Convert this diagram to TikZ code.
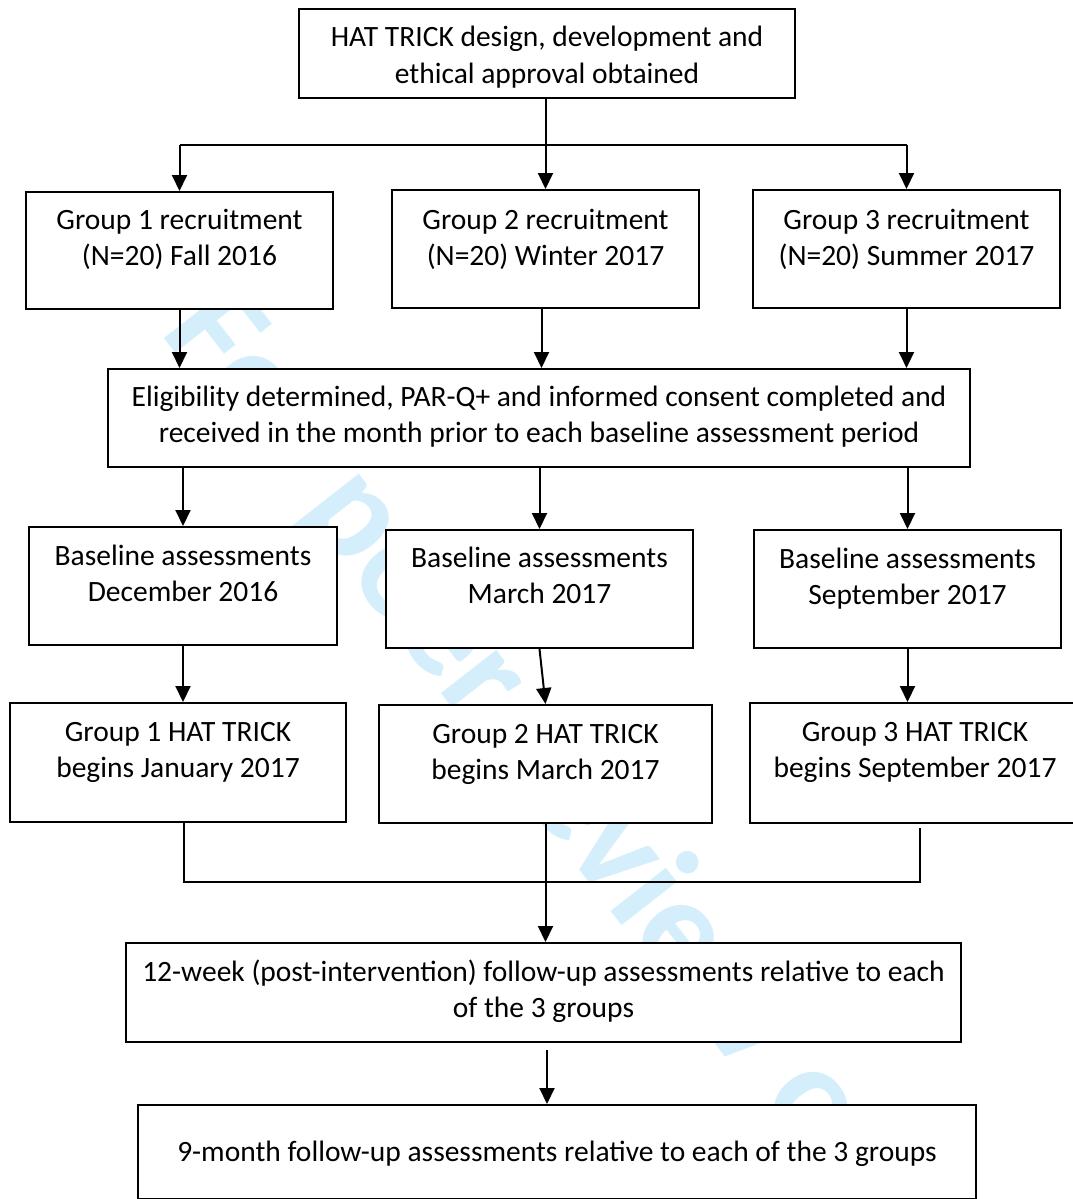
\documentclass[tikz,border=0pt]{standalone}
\usepackage{fontspec}
\setmainfont{Carlito}
\usetikzlibrary{arrows.meta}
\definecolor{wmblue}{RGB}{213,238,251}
\begin{document}
\begin{tikzpicture}[x=1pt,y=-1pt,
  box/.style={draw=black, line width=2pt, fill=white, anchor=north west, inner sep=0pt,
    align=center, font=\fontsize{29.5}{36}\selectfont},
  arr/.style={line width=2pt, -{Triangle[length=16pt,width=15pt]}},
  link/.style={line width=2pt},
  thinlink/.style={line width=1.3pt},
  watermark/.style={text=wmblue, inner sep=0pt, anchor=base west, rotate=-52,
    font=\fontsize{145}{145}\selectfont\bfseries}
]
\useasboundingbox (0,0) rectangle (1073,1199);

% watermark
\node[watermark] (wm) at (159,332) {For peer review only};

% boxes (text height = distance from box top to the last baseline)
\node[box, minimum width=496pt, minimum height=89pt, text height=74pt, text depth=15pt] (top) at (298,8)
  {HAT TRICK design, development and\\ethical approval obtained};

\node[box, minimum width=307pt, minimum height=117pt, text height=73pt, text depth=44pt] (g1) at (25,191)
  {Group 1 recruitment\\(N=20) Fall 2016};
\node[box, minimum width=307pt, minimum height=118pt, text height=75pt, text depth=43pt] (g2) at (391,189)
  {Group 2 recruitment\\(N=20) Winter 2017};
\node[box, minimum width=307pt, minimum height=118pt, text height=75pt, text depth=43pt] (g3) at (752,189)
  {Group 3 recruitment\\(N=20) Summer 2017};

\node[box, minimum width=862pt, minimum height=98pt, text height=73pt, text depth=25pt] (elig) at (107,368)
  {Eligibility determined, PAR-Q+ and informed consent completed and\\received in the month prior to each baseline assessment period};

\node[box, minimum width=308pt, minimum height=118pt, text height=74pt, text depth=44pt] (b1) at (28,526)
  {Baseline assessments\\December 2016};
\node[box, minimum width=307pt, minimum height=118pt, text height=73pt, text depth=45pt] (b2) at (385,529)
  {Baseline assessments\\March 2017};
\node[box, minimum width=307pt, minimum height=118pt, text height=74pt, text depth=44pt] (b3) at (753,529)
  {Baseline assessments\\September 2017};

\node[box, minimum width=336pt, minimum height=119pt, text height=74pt, text depth=45pt] (h1) at (9,702)
  {Group 1 HAT TRICK\\begins January 2017};
\node[box, minimum width=333pt, minimum height=118pt, text height=74pt, text depth=44pt] (h2) at (378,704)
  {Group 2 HAT TRICK\\begins March 2017};
\node[box, minimum width=330pt, minimum height=120pt, text height=74pt, text depth=46pt] (h3) at (749,702)
  {Group 3 HAT TRICK\\begins September 2017};

\node[box, minimum width=835pt, minimum height=99pt, text height=74pt, text depth=25pt] (w12) at (125,942)
  {12-week (post-intervention) follow-up assessments relative to each\\of the 3 groups};
\node[box, minimum width=838pt, minimum height=94pt, text height=56pt, text depth=38pt] (m9) at (137,1104)
  {9-month follow-up assessments relative to each of the 3 groups};

% top branching
\coordinate (br) at (544,145);
\draw[arr] (top.south -| g2.north) -- (g2.north);
\draw[thinlink] (g1.north |- br) -- (g3.north |- br);
\draw[arr] (g1.north |- br) -- (g1.north);
\draw[arr] (g3.north |- br) -- (g3.north);

% recruitment to eligibility
\draw[arr] (g1.south) -- (g1.south |- elig.north);
\draw[arr] ([xshift=-4pt]g2.south) -- ([xshift=-4pt]g2.south |- elig.north);
\draw[arr] (g3.south) -- (g3.south |- elig.north);

% eligibility to baseline
\draw[arr] (elig.south -| b1.north) -- (b1.north);
\draw[arr] (elig.south -| b2.north) -- (b2.north);
\draw[arr] (elig.south -| b3.north) -- (b3.north);

% baseline to HAT TRICK
\draw[arr] (b1.south) -- (b1.south |- h1.north);
\draw[arr] (b2.south) -- (h2.north);
\draw[arr] (b3.south) -- (b3.south |- h3.north);

% join to 12-week
\coordinate (jn) at (544,882);
\draw[link] ([xshift=6pt]h1.south) |- (jn) -| ([xshift=5pt,yshift=-4pt]h3.south);
\draw[arr] (h2.south) -- (h2.south |- w12.north);

% 12-week to 9-month
\draw[arr] ([xshift=3.5pt,yshift=-7pt]w12.south) -- ([xshift=3.5pt]w12.south |- m9.north);
\end{tikzpicture}
\end{document}
